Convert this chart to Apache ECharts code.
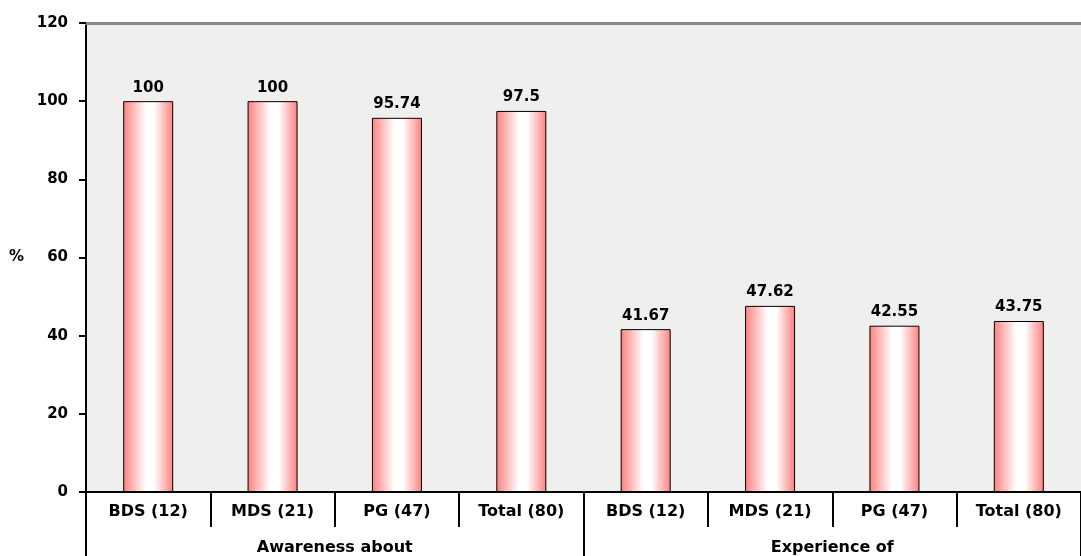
<!DOCTYPE html>
<html><head><meta charset="utf-8">
<script src="https://cdn.jsdelivr.net/npm/echarts@6/dist/echarts.min.js"></script>
<style>html,body{margin:0;padding:0;background:#fff}#c{width:1081px;height:556px}</style>
</head><body><div id="c"></div>
<script>
const categories = ["BDS (12)","MDS (21)","PG (47)","Total (80)","BDS (12)","MDS (21)","PG (47)","Total (80)"];
const groups = ["Awareness about","Experience of"];
const values = [100,100,95.74,97.5,41.67,47.62,42.55,43.75];
const yTicks = [0,20,40,60,80,100,120];
const FONT = '"DejaVu Sans", Arial, sans-serif';
const chart = echarts.init(document.getElementById('c'));
chart.setOption({
  animation:false,
  grid:{left:86,right:0,top:23,bottom:64,show:true,backgroundColor:'#efefed',borderWidth:0},
  xAxis:[
    {type:'category',data:categories,position:'bottom',
     axisLine:{lineStyle:{color:'#000',width:2}},
     axisTick:{show:true,length:35,lineStyle:{color:'#000',width:2}},
     axisLabel:{color:'#000',fontFamily:FONT,fontWeight:'bold',fontSize:16,margin:12}},
    {type:'category',data:groups,position:'bottom',
     axisLine:{show:false},
     axisTick:{show:true,length:64,lineStyle:{color:'#000',width:2}},
     axisLabel:{color:'#000',fontFamily:FONT,fontWeight:'bold',fontSize:16,margin:48}},
    {type:'category',data:categories,position:'top',
     axisLine:{show:true,lineStyle:{color:'#888',width:3}},
     axisTick:{show:false},axisLabel:{show:false}}
  ],
  yAxis:{type:'value',min:yTicks[0],max:yTicks[yTicks.length-1],interval:20,
    name:'%',nameLocation:'middle',nameRotate:0,nameGap:62,
    nameTextStyle:{color:'#000',fontFamily:FONT,fontWeight:'bold',fontSize:15},
    axisLine:{show:true,lineStyle:{color:'#000',width:2}},
    axisTick:{show:true,length:7,lineStyle:{color:'#000',width:2}},
    axisLabel:{color:'#000',fontFamily:FONT,fontWeight:'bold',fontSize:15,margin:18},
    splitLine:{show:false}},
  series:[{type:'bar',xAxisIndex:0,data:values,barWidth:50,
    itemStyle:{borderColor:'#000',borderWidth:1,
      color:new echarts.graphic.LinearGradient(0,0,1,0,[
        {offset:0,color:'#ff7f7f'},{offset:0.45,color:'#ffffff'},{offset:0.62,color:'#ffffff'},{offset:1,color:'#ff7f7f'}])},
    label:{show:true,position:'top',distance:6,color:'#000',fontFamily:FONT,fontWeight:'bold',fontSize:15}}]
});
</script></body></html>
